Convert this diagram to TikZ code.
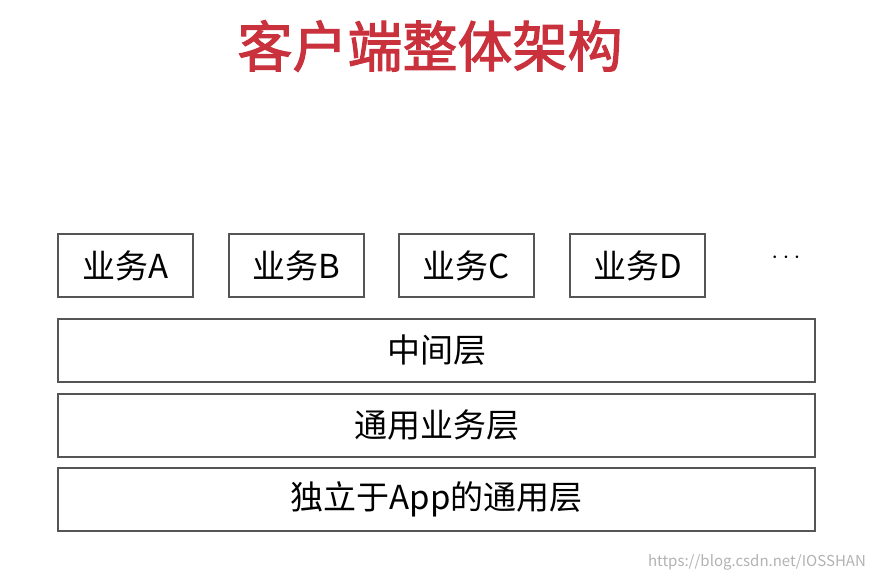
\documentclass[tikz,border=0pt]{standalone}
\usepackage{fontspec}
\setmainfont{Noto Sans CJK SC}
\newfontfamily\titlefont[FakeBold=2]{Noto Sans CJK SC}
\definecolor{titlered}{HTML}{C9323C}
\definecolor{boxline}{HTML}{555555}
\begin{document}
\begin{tikzpicture}[x=1pt,y=-1pt,
  box/.style={draw=boxline,line width=1.2pt,inner sep=0pt,font=\fontsize{33}{36}\selectfont},
  smallbox/.style={box,minimum width=135pt,minimum height=63pt},
  widebox/.style={box,minimum width=757pt,minimum height=63pt}]
\useasboundingbox (0,0) rectangle (876,580);
\node[text=titlered,font=\titlefont\fontsize{55}{60}\selectfont] (title) at (430,46) {客户端整体架构};
\node[smallbox] (a) at (125.5,265.5) {业务A};
\node[smallbox] (b) at (296.5,265.5) {业务B};
\node[smallbox] (c) at (466.5,265.5) {业务C};
\node[smallbox] (d) at (637.5,265.5) {业务D};
\node[font=\fontsize{40}{40}\selectfont] (dots) at (786,258) {$\cdots$};
\node[widebox] (mid) at (436.5,350.5) {中间层};
\node[widebox] (common) at (436.5,425.5) {通用业务层};
\node[widebox] (indep) at (436.5,499.5) {独立于App的通用层};
\node[text=gray!60,font=\fontsize{15}{16}\selectfont] (wm) at (757,562) {https://blog.csdn.net/IOSSHAN};
\end{tikzpicture}
\end{document}
